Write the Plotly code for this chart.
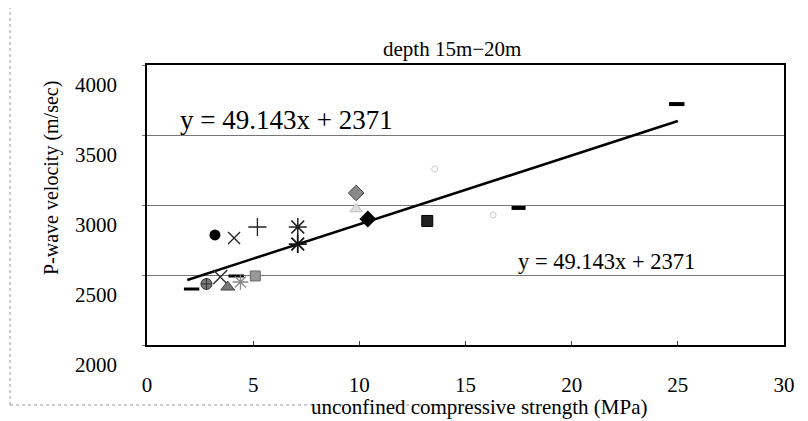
import plotly.graph_objects as go

# ---- data ----
ucs_mpa = [3.2, 4.1, 5.2, 7.1, 7.1, 2.1, 2.8, 3.45, 3.8, 4.2, 4.4, 5.1,
           9.85, 9.85, 10.4, 13.2, 13.55, 16.3, 17.5, 24.95]
vp_ms = [2786, 2764, 2843, 2843, 2721, 2400, 2436, 2486, 2414, 2493, 2450, 2493,
         3086, 2971, 2900, 2886, 3257, 2929, 2979, 3721]
trend_x = [1.9, 25.0]
trend_y = [2464, 3600]
x_ticks = [0, 5, 10, 15, 20, 25, 30]
y_ticks = [2000, 2500, 3000, 3500, 4000]
equation = "y = 49.143x + 2371"
title_text = "depth 15m\u221220m"

# ---- marker styles (one per point) ----
styles = [
    dict(symbol="circle", size=11, color="black", line=dict(width=0)),
    dict(symbol="x-thin-open", size=12, color="#222", line=dict(width=1.3, color="#222")),
    dict(symbol="cross-thin-open", size=13, color="#222", line=dict(width=1.3, color="#222")),
    dict(symbol="asterisk-open", size=15, color="#222", line=dict(width=1.5, color="#222")),
    dict(symbol="asterisk-open", size=15, color="#111", line=dict(width=1.8, color="#111")),
    dict(symbol="line-ew-open", size=11, color="black", line=dict(width=3, color="black")),
    dict(symbol="circle-cross", size=11, color="#777", line=dict(width=1, color="#333")),
    dict(symbol="x-thin-open", size=14, color="#333", line=dict(width=1.5, color="#333")),
    dict(symbol="triangle-up", size=12, color="#777", line=dict(width=1, color="#444")),
    dict(symbol="line-ew-open", size=11, color="black", line=dict(width=3, color="black")),
    dict(symbol="asterisk-open", size=13, color="#888", line=dict(width=1.3, color="#888")),
    dict(symbol="square", size=10, color="#999", line=dict(width=1, color="#666")),
    dict(symbol="diamond", size=12, color="#888", line=dict(width=1, color="#444")),
    dict(symbol="triangle-up", size=11, color="#ddd", line=dict(width=1, color="#bbb")),
    dict(symbol="diamond", size=13, color="black", line=dict(width=0)),
    dict(symbol="square", size=11, color="#222", line=dict(width=1, color="#000")),
    dict(symbol="circle-open", size=6, color="#ccc", line=dict(width=1, color="#ccc")),
    dict(symbol="circle-open", size=6, color="#ccc", line=dict(width=1, color="#ccc")),
    dict(symbol="line-ew-open", size=10, color="black", line=dict(width=4, color="black")),
    dict(symbol="line-ew-open", size=11, color="black", line=dict(width=4, color="#333")),
]

SERIF = "Liberation Serif, Times New Roman, serif"

fig = go.Figure()

fig.add_trace(go.Scatter(x=trend_x, y=trend_y, mode="lines",
                         line=dict(color="black", width=2.5),
                         showlegend=False, hoverinfo="skip"))

for xi, yi, st in zip(ucs_mpa, vp_ms, styles):
    fig.add_trace(go.Scatter(x=[xi], y=[yi], mode="markers",
                             marker=st, showlegend=False))

# page has an 8px body margin; compensate so the plot box sits at page 147..784 x 65..345
OFF = 8
PL, PT, PR, PB = 147, 65, 784, 345
W, H = 808 - OFF, 421 - OFF
pw, ph = PR - PL, PB - PT
L, T = PL - OFF, PT - OFF
R, B = W - L - pw, H - T - ph

def px(x):
    return (x - PL) / pw

def py(y):
    return (PB - y) / ph

def ann(text, x, y, size, xanchor="center", angle=0):
    return dict(text=text, x=px(x), y=py(y), xref="paper", yref="paper",
                xanchor=xanchor, yanchor="middle", showarrow=False,
                textangle=angle, font=dict(family=SERIF, size=size, color="black"))

fig.update_layout(
    width=W, height=H,
    margin=dict(l=L, r=R, t=T, b=B, autoexpand=False),
    paper_bgcolor="white", plot_bgcolor="white",
    font=dict(family=SERIF, color="black", size=19),
    xaxis=dict(range=[0, 30], tickvals=x_ticks, ticktext=[str(v) for v in x_ticks],
               showgrid=False, zeroline=False, showline=True, linecolor="black",
               linewidth=1.5, mirror=True, ticks="inside", ticklen=4,
               tickcolor="#444", ticklabelstandoff=20, automargin=False,
               tickfont=dict(family=SERIF, size=21)),
    yaxis=dict(range=[2000, 4000], tickvals=y_ticks, ticktext=[str(v) for v in y_ticks],
               showgrid=True, gridcolor="#777", gridwidth=1, zeroline=False,
               showline=True, linecolor="black", linewidth=1.5, mirror=True,
               ticks="outside", ticklen=3, tickcolor="#777",
               ticklabelstandoff=21, ticklabelshift=20, automargin=False,
               tickfont=dict(family=SERIF, size=21)),
    annotations=[
        ann(title_text, 452, 49, 21),
        ann("P-wave velocity (m/sec)", 51, 178, 20, angle=-90),
        ann("unconfined compressive strength (MPa)", 479, 407, 21),
        ann(equation, 178, 120, 27, xanchor="left"),
        ann(equation, 516, 262, 22.5, xanchor="left"),
    ],
    shapes=[
        dict(type="line", xref="paper", yref="paper", x0=px(10), x1=px(10),
             y0=py(0), y1=py(405), line=dict(color="#999", width=1, dash="dot")),
        dict(type="line", xref="paper", yref="paper", x0=px(10), x1=px(490),
             y0=py(405), y1=py(405), line=dict(color="#999", width=1, dash="dot")),
    ],
)

fig.write_html("out.html")
